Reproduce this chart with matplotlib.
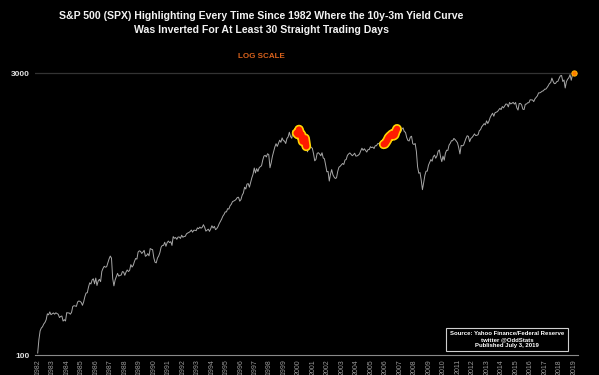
import numpy as np
import matplotlib
matplotlib.use('Agg')
from matplotlib import pyplot as plt

# S&P 500 monthly closes, Aug 1982 .. Jul 2019 (first = Aug 1982 low, last = Jul 3 2019)
spx_close = [
    102.4, 120.4, 133.7, 138.5, 140.6,                                              # 1982
    145.3, 148.1, 153.0, 164.4, 162.4, 168.1, 162.6, 164.4, 166.1, 163.6, 166.4, 164.9,  # 1983
    163.4, 157.1, 159.2, 160.1, 150.6, 153.2, 150.7, 166.7, 166.1, 166.1, 163.6, 167.2,  # 1984
    179.6, 181.2, 180.7, 179.8, 189.6, 191.9, 190.9, 188.6, 182.1, 189.8, 202.2, 211.3,  # 1985
    211.8, 226.9, 238.9, 235.5, 247.4, 250.8, 236.1, 252.9, 231.3, 244.0, 249.2, 242.2,  # 1986
    274.1, 284.2, 291.7, 288.4, 290.1, 304.0, 318.7, 329.8, 321.8, 251.8, 230.3, 247.1,  # 1987
    257.1, 267.8, 258.9, 261.3, 262.2, 273.5, 272.0, 261.5, 271.9, 279.0, 273.7, 277.7,  # 1988
    297.5, 288.9, 294.9, 309.6, 320.5, 318.0, 346.1, 351.5, 349.2, 340.4, 346.0, 353.4,  # 1989
    329.1, 331.9, 339.9, 330.8, 361.2, 358.0, 356.2, 322.6, 306.1, 304.0, 322.2, 330.2,  # 1990
    343.9, 367.1, 375.2, 375.3, 389.8, 371.2, 387.8, 395.4, 387.9, 392.5, 375.2, 417.1,  # 1991
    408.8, 412.7, 403.7, 415.0, 415.4, 408.1, 424.2, 414.0, 417.8, 418.7, 431.4, 435.7,  # 1992
    438.8, 443.4, 451.7, 440.2, 450.2, 450.5, 448.1, 463.6, 458.9, 467.8, 461.8, 466.5,  # 1993
    481.6, 467.1, 445.8, 450.9, 456.5, 444.3, 458.3, 475.5, 462.7, 472.4, 453.7, 459.3,  # 1994
    470.4, 487.4, 500.7, 514.7, 533.4, 544.8, 562.1, 561.9, 584.4, 581.5, 605.4, 615.9,  # 1995
    636.0, 640.4, 645.5, 654.2, 669.1, 670.6, 639.9, 652.0, 687.3, 705.3, 757.0, 740.7,  # 1996
    786.2, 790.8, 757.1, 801.3, 848.3, 885.1, 954.3, 899.5, 947.3, 914.6, 955.4, 970.4,  # 1997
    980.3, 1049.3, 1101.8, 1111.8, 1090.8, 1133.8, 1120.7, 957.3, 1017.0, 1098.7, 1163.6, 1229.2,  # 1998
    1279.6, 1238.3, 1286.4, 1335.2, 1301.8, 1372.7, 1328.7, 1320.4, 1282.7, 1362.9, 1388.9, 1469.3,  # 1999
    1394.5, 1366.4, 1498.6, 1452.4, 1420.6, 1454.6, 1430.8, 1517.7, 1436.5, 1429.4, 1315.2, 1320.3,  # 2000
    1366.0, 1239.9, 1160.3, 1249.5, 1256.0, 1224.4, 1211.2, 1133.6, 1040.9, 1059.8, 1139.5, 1148.1,  # 2001
    1130.2, 1106.7, 1147.4, 1076.9, 1067.1, 989.8, 911.6, 916.1, 815.3, 885.8, 936.3, 879.8,  # 2002
    855.7, 841.2, 848.2, 916.9, 963.6, 974.5, 990.3, 1008.0, 996.0, 1050.7, 1058.2, 1111.9,  # 2003
    1131.1, 1144.9, 1126.2, 1107.3, 1120.7, 1140.8, 1101.7, 1104.2, 1114.6, 1130.2, 1173.8, 1211.9,  # 2004
    1181.3, 1203.6, 1180.6, 1156.9, 1191.5, 1191.3, 1234.2, 1220.3, 1228.8, 1207.0, 1249.5, 1248.3,  # 2005
    1280.1, 1280.7, 1294.9, 1310.6, 1270.1, 1270.2, 1276.7, 1303.8, 1335.9, 1377.9, 1400.6, 1418.3,  # 2006
    1438.2, 1406.8, 1420.9, 1482.4, 1530.6, 1503.4, 1455.3, 1474.0, 1526.8, 1549.4, 1481.1, 1468.4,  # 2007
    1378.6, 1330.6, 1322.7, 1385.6, 1400.4, 1280.0, 1267.4, 1282.8, 1166.4, 968.8, 896.2, 903.3,  # 2008
    825.9, 735.1, 797.9, 872.8, 919.1, 919.3, 987.5, 1020.6, 1057.1, 1036.2, 1095.6, 1115.1,  # 2009
    1073.9, 1104.5, 1169.4, 1186.7, 1089.4, 1030.7, 1101.6, 1049.3, 1141.2, 1183.3, 1180.6, 1257.6,  # 2010
    1286.1, 1327.2, 1325.8, 1363.6, 1345.2, 1320.6, 1292.3, 1218.9, 1131.4, 1253.3, 1247.0, 1257.6,  # 2011
    1312.4, 1365.7, 1408.5, 1397.9, 1310.3, 1362.2, 1379.3, 1406.6, 1440.7, 1412.2, 1416.2, 1426.2,  # 2012
    1498.1, 1514.7, 1569.2, 1597.6, 1630.7, 1606.3, 1685.7, 1633.0, 1681.6, 1756.5, 1805.8, 1848.4,  # 2013
    1782.6, 1859.5, 1872.3, 1884.0, 1923.6, 1960.2, 1930.7, 2003.4, 1972.3, 2018.1, 2067.6, 2058.9,  # 2014
    1995.0, 2104.5, 2067.9, 2085.5, 2107.4, 2063.1, 2103.8, 1972.2, 1920.0, 2079.4, 2080.4, 2043.9,  # 2015
    1940.2, 1932.2, 2059.7, 2065.3, 2097.0, 2098.9, 2173.6, 2171.0, 2168.3, 2126.2, 2198.8, 2238.8,  # 2016
    2278.9, 2363.6, 2362.7, 2384.2, 2411.8, 2423.4, 2470.3, 2471.7, 2519.4, 2575.3, 2647.6, 2673.6,  # 2017
    2823.8, 2713.8, 2640.9, 2648.1, 2705.3, 2718.4, 2816.3, 2901.5, 2914.0, 2711.7, 2760.2, 2506.9,  # 2018
    2704.1, 2784.5, 2834.4, 2945.8, 2752.1, 2941.8, 2995.8,                          # 2019
]

# 10y-3m inversions lasting 30+ trading days (decimal years)
inverted_windows = [(2000.45, 2001.2), (2006.45, 2007.45)]
latest_window = (2019.4, 2019.6)

year_labels = [str(y) for y in range(1982, 2020)]
ytick_values = [100, 3000]
ytick_labels = ['100', '3000']

# month midpoints starting Aug 1982
dates = 1982 + (7 + np.arange(len(spx_close))) / 12 + 1 / 24
spx = np.array(spx_close)

plt.rcParams['font.family'] = ['Liberation Sans', 'DejaVu Sans']

fig = plt.figure(figsize=(5.99, 3.75), dpi=100, facecolor='black')
ax = fig.add_axes([35 / 599, 1 - 355 / 375, (578 - 35) / 599, (355 - 60) / 375])
ax.set_facecolor('black')

ax.plot(dates, spx, color='#a8a8a8', lw=0.7, zorder=2)

for start, end in inverted_windows:
    m = (dates >= start) & (dates <= end)
    ax.plot(dates[m], spx[m], color='#ffd400', lw=7, solid_capstyle='round',
            solid_joinstyle='round', zorder=3)
    ax.plot(dates[m], spx[m], color='#ff1a00', lw=4.6, solid_capstyle='round',
            solid_joinstyle='round', zorder=4)

m = (dates >= latest_window[0]) & (dates <= latest_window[1])
ax.scatter(dates[m][-1:], spx[m][-1:], s=14, color='#ff7a00', edgecolor='#ffb000',
           linewidth=0.8, zorder=5)

ax.set_yscale('log')
ax.set_ylim(100, 3513)
ax.set_xlim(1982.44, 2019.84)

ax.axhline(3000, color='#333333', lw=0.9, zorder=1)

ax.set_yticks(ytick_values)
ax.set_yticklabels(ytick_labels)
ax.yaxis.set_minor_locator(matplotlib.ticker.NullLocator())
ax.set_xticks(np.linspace(dates[0], dates[-1], len(year_labels)))
ax.set_xticklabels(year_labels, rotation=90)
ax.tick_params(axis='y', length=0, colors='#e0e0e0', labelsize=6, pad=4)
ax.tick_params(axis='x', length=0, colors='#9a9a9a', labelsize=5, pad=3)
for lbl in ax.get_yticklabels():
    lbl.set_fontweight('bold')

for side in ['top', 'right', 'left']:
    ax.spines[side].set_visible(False)
ax.spines['bottom'].set_color('#8a8a8a')
ax.spines['bottom'].set_linewidth(0.8)

fig.text(261 / 599, 1 - 16 / 375,
         'S&P 500 (SPX) Highlighting Every Time Since 1982 Where the 10y-3m Yield Curve',
         color='#f2f2f2', fontsize=7.6, fontweight='bold', ha='center', va='center')
fig.text(261 / 599, 1 - 30 / 375, 'Was Inverted For At Least 30 Straight Trading Days',
         color='#f2f2f2', fontsize=7.6, fontweight='bold', ha='center', va='center')
fig.text(261 / 599, 1 - 56 / 375, 'LOG SCALE', color='#d9621c', fontsize=5.8,
         fontweight='bold', ha='center', va='center')

fig.text(507 / 599, 1 - 339.5 / 375,
         'Source: Yahoo Finance/Federal Reserve\ntwitter @OddStats\nPublished July 3, 2019',
         color='white', fontsize=4.3, fontweight='bold', ha='center', va='center',
         linespacing=1.15,
         bbox=dict(boxstyle='square,pad=0.6', facecolor='black', edgecolor='#cfcfcf', lw=0.8))

fig.savefig('out.png', dpi=100, facecolor='black')
